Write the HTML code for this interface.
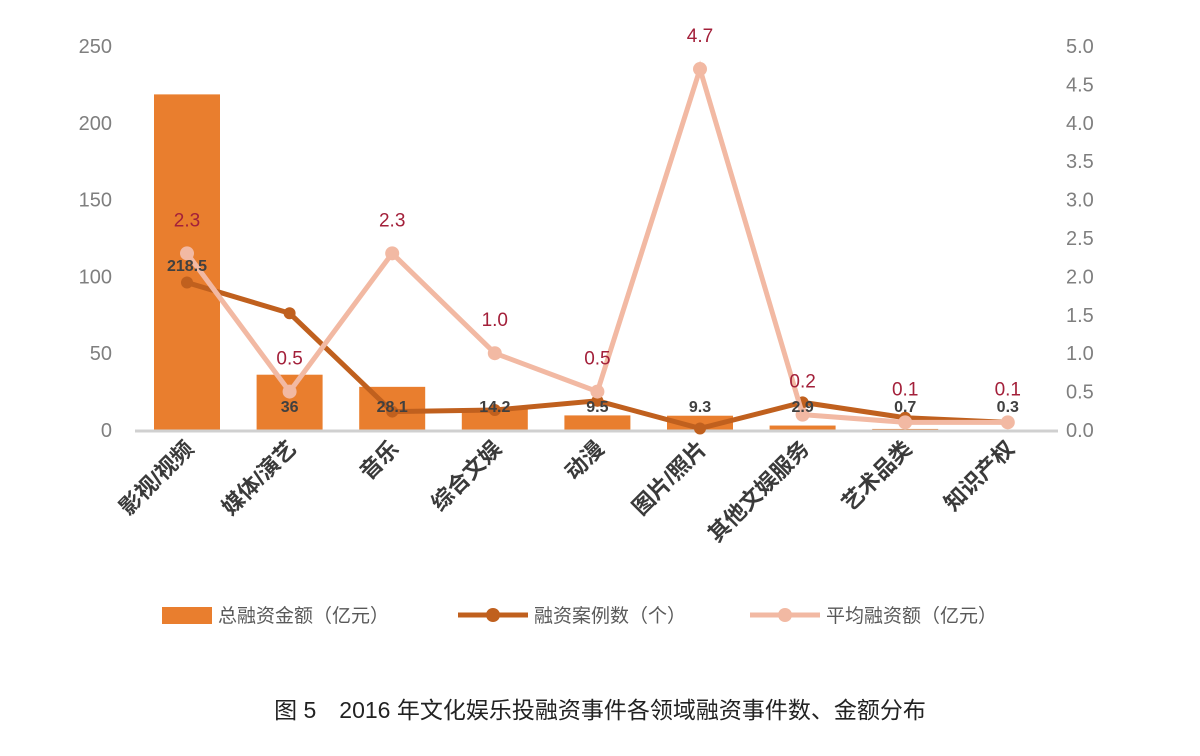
<!DOCTYPE html>
<html><head><meta charset="utf-8"><style>
body{margin:0;background:#fff;}
svg text{font-family:"Liberation Sans","Noto Sans CJK SC",sans-serif;}
</style></head><body>
<svg width="1200" height="751" viewBox="0 0 1200 751">
<g id="g"></g>
</svg>
<script>
const categories=["影视/视频","媒体/演艺","音乐","综合文娱","动漫","图片/照片","其他文娱服务","艺术品类","知识产权"];
const totalAmount=[218.5,36,28.1,14.2,9.5,9.3,2.9,0.7,0.3];
const caseCount=[96,76,12,13,19,1,18,8,5];
const avgAmount=[2.3,0.5,2.3,1.0,0.5,4.7,0.2,0.1,0.1];
const leftTicks=[0,50,100,150,200,250];
const rightTicks=[0,0.5,1,1.5,2,2.5,3,3.5,4,4.5,5];
const NS="http://www.w3.org/2000/svg";
const g=document.getElementById('g');
const y0=430,yTop=46;
const yL=v=>y0-(v/250)*(y0-yTop);
const yR=v=>y0-(v/5)*(y0-yTop);
const xC=i=>187+i*102.6;
function el(t,a,txt){const e=document.createElementNS(NS,t);for(const k in a)e.setAttribute(k,a[k]);if(txt!==undefined)e.textContent=txt;g.appendChild(e);return e;}
leftTicks.forEach(v=>{const t=el('text',{x:112,y:yL(v)+7,'text-anchor':'end','font-size':20,fill:'#7f7f7f'},String(v));
});
rightTicks.forEach(v=>{const t=el('text',{x:1066,y:yR(v)+7,'font-size':20,fill:'#7f7f7f'},v.toFixed(1));
});
totalAmount.forEach((v,i)=>{const r=el('rect',{x:xC(i)-33,y:yL(v),width:66,height:y0-yL(v),fill:'#e97e2e'});
});
const ax=el('line',{x1:135,x2:1058,y1:y0+1,y2:y0+1,stroke:'#d0d0d0','stroke-width':3});

const p1=el('polyline',{points:caseCount.map((v,i)=>xC(i)+','+yL(v)).join(' '),fill:'none',stroke:'#c0601e','stroke-width':5});

caseCount.forEach((v,i)=>{const c=el('circle',{cx:xC(i),cy:yL(v),r:6,fill:'#c0601e'});
});
const p2=el('polyline',{points:avgAmount.map((v,i)=>xC(i)+','+yR(v)).join(' '),fill:'none',stroke:'#f2b9a3','stroke-width':5});

avgAmount.forEach((v,i)=>{const c=el('circle',{cx:xC(i),cy:yR(v),r:7,fill:'#f2b9a3'});

const t=el('text',{x:xC(i),y:yR(v)-27,'text-anchor':'middle','font-size':19,fill:'#a3203a'},v.toFixed(1));
});
totalAmount.forEach((v,i)=>{const t=el('text',{x:xC(i),y:i==0?271:412,'text-anchor':'middle','font-size':16,'font-weight':'bold',fill:'#404040'},String(v));
});
categories.forEach((c,i)=>{const x=xC(i)+8,y=450;const t=el('text',{x:x,y:y,'text-anchor':'end','font-size':22,'font-weight':'bold',fill:'#3a3a3a',transform:`rotate(-45 ${x} ${y})`},c);
});
let r=el('rect',{x:162,y:607,width:50,height:17,fill:'#e97e2e'});
let t=el('text',{x:218,y:622,'font-size':19,fill:'#595959'},'总融资金额（亿元）');
let l=el('line',{x1:458,x2:528,y1:615,y2:615,stroke:'#c0601e','stroke-width':5});
let c=el('circle',{cx:493,cy:615,r:7,fill:'#c0601e'});
t=el('text',{x:534,y:622,'font-size':19,fill:'#595959'},'融资案例数（个）');
l=el('line',{x1:750,x2:820,y1:615,y2:615,stroke:'#f2b9a3','stroke-width':5});
c=el('circle',{cx:785,cy:615,r:7,fill:'#f2b9a3'});
t=el('text',{x:826,y:622,'font-size':19,fill:'#595959'},'平均融资额（亿元）');
t=el('text',{x:600,y:718,'text-anchor':'middle','font-size':23,fill:'#222'},'图 5　2016 年文化娱乐投融资事件各领域融资事件数、金额分布');

</script>
</body></html>
